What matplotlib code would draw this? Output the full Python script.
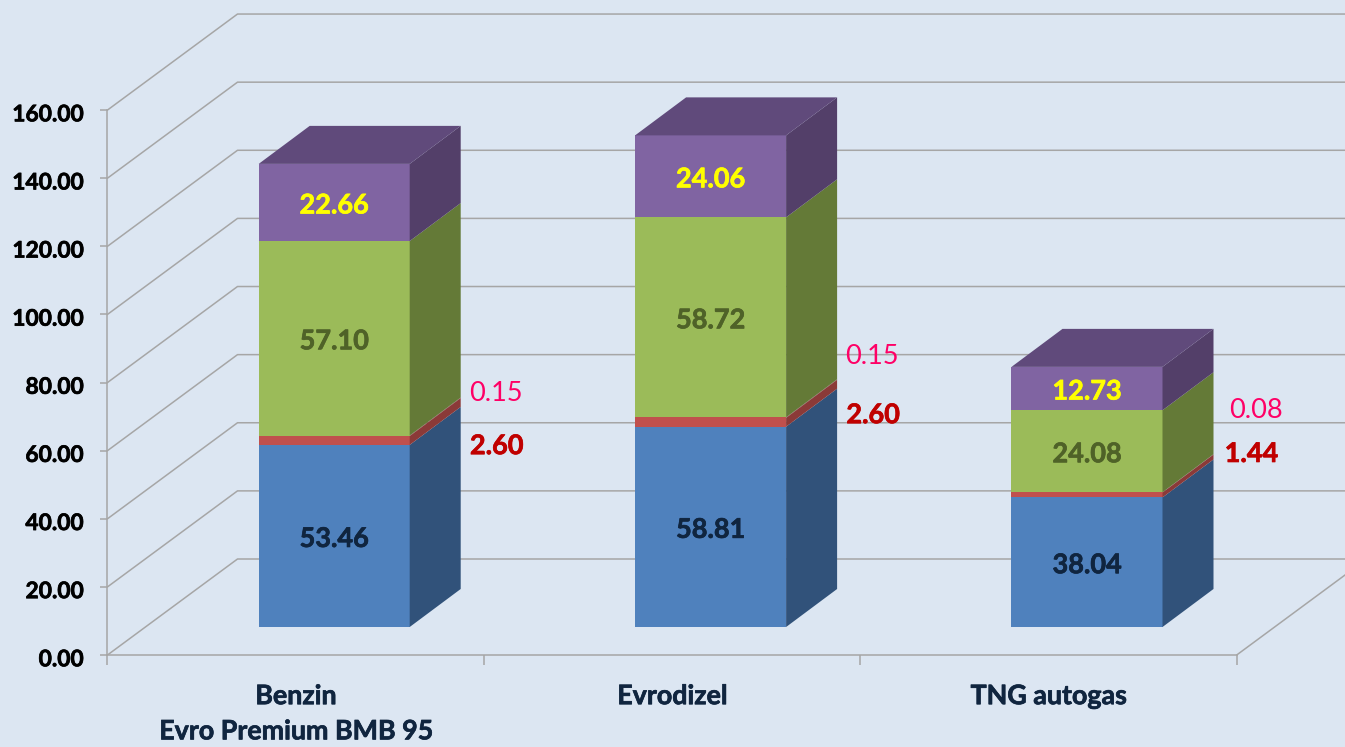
import matplotlib
matplotlib.use("Agg")
import matplotlib.pyplot as plt
import matplotlib.patheffects as pe
from matplotlib.transforms import ScaledTranslation
import numpy as np

categories = ["Benzin\nEvro Premium BMB 95", "Evrodizel", "TNG autogas"]
blue_vals = [53.46, 58.81, 38.04]
red_vals = [2.60, 2.60, 1.44]
pink_vals = [0.15, 0.15, 0.08]
green_vals = [57.10, 58.72, 24.08]
purple_vals = [22.66, 24.06, 12.73]
y_ticks = [0, 20, 40, 60, 80, 100, 120, 140, 160]

# where the two outside labels sit (y in axis units, x as pixels right of the box)
red_label_y = [62.2, 71.3, 59.9]
pink_label_y = [77.8, 88.4, 72.8]
red_label_dx = [36, 36, 38]
pink_label_dx = [35, 35, 42]

bg = "#DCE6F2"
grid_col = "#A6A6A6"
font = "Lato"

# depth of the 3d box in axis units
px_x = 376.4
px_y = 3.406
wall_dx = 130 / px_x
wall_dy = 96 / px_y
bar_w = 151 / px_x
side_dx = 51 / px_x
side_dy = 38 / px_y
base_dx = 38.5 / px_x
base_dy = 28 / px_y
text_drop = 3 / px_y   # lato sits a bit higher than the original font

fig = plt.figure(figsize=(13.45, 7.47), dpi=100, facecolor=bg)
ax = fig.add_axes([107.5 / 1345, 92 / 747, 1 - 107.5 / 1345, 655 / 747])
ax.set_facecolor(bg)
ax.set_xlim(0, (1345 - 107.5) / px_x)
ax.set_ylim(0, 655 / px_y)

# walls
for t in y_ticks:
    ax.plot([0, wall_dx, 4], [t, t + wall_dy, t + wall_dy], color=grid_col, lw=1.1, zorder=1)
ax.plot([3, 3 + wall_dx], [0, wall_dy], color=grid_col, lw=1.1, zorder=1)

series = [
    (blue_vals, "#4F81BD", "#31527A"),
    (red_vals, "#C0504D", "#8B3A38"),
    (pink_vals, "#C0504D", "#8B3A38"),
    (green_vals, "#9BBB59", "#647A37"),
    (purple_vals, "#8064A2", "#533F69"),
]

x = np.arange(3) + 0.5 + base_dx
bottom = np.zeros(3) + base_dy
for vals, front, side in series:
    vals = np.array(vals)
    right = x + bar_w / 2
    ax.bar(x, vals, bar_w, bottom=bottom, color=front, linewidth=0, zorder=3)
    for i in range(3):
        y0 = bottom[i]
        y1 = y0 + vals[i]
        ax.fill([right[i], right[i] + side_dx, right[i] + side_dx, right[i]],
                [y0, y0 + side_dy, y1 + side_dy, y1], color=side, linewidth=0, zorder=3)
    bottom = bottom + vals

# top of the boxes
for i in range(3):
    left = x[i] - bar_w / 2
    right = x[i] + bar_w / 2
    ax.fill([left, left + side_dx, right + side_dx, right],
            [bottom[i], bottom[i] + side_dy, bottom[i] + side_dy, bottom[i]],
            color="#604A7B", linewidth=0, zorder=3)


def bold_label(xp, yp, val, col):
    t = ax.text(xp, yp - text_drop, f"{val:.2f}", color=col, family=font, fontweight="bold",
                fontsize=19.5, ha="center", va="center", zorder=5)
    t.set_path_effects([pe.withStroke(linewidth=0.5, foreground=col)])


# labels inside the bars
b1 = np.array(blue_vals) + base_dy
b2 = b1 + np.array(red_vals) + np.array(pink_vals)
b3 = b2 + np.array(green_vals)
for i in range(3):
    bold_label(x[i], base_dy + blue_vals[i] / 2, blue_vals[i], "#10253F")
    bold_label(x[i], b2[i] + green_vals[i] / 2, green_vals[i], "#4F6228")
    bold_label(x[i], b3[i] + purple_vals[i] / 2, purple_vals[i], "#FFFF00")
    edge = x[i] + bar_w / 2 + side_dx
    bold_label(edge + red_label_dx[i] / px_x, red_label_y[i], red_vals[i], "#C00000")
    ax.text(edge + pink_label_dx[i] / px_x, pink_label_y[i] - text_drop, f"{pink_vals[i]:.2f}", color="#FF0066",
            family=font, fontsize=19.5, ha="center", va="center", zorder=5)

# axes
for s in ["top", "right"]:
    ax.spines[s].set_visible(False)
ax.spines["left"].set_bounds(0, 160)
ax.spines["bottom"].set_bounds(0, 3)
ax.spines["left"].set_color(grid_col)
ax.spines["bottom"].set_color(grid_col)
ax.spines["left"].set_linewidth(1.1)
ax.spines["bottom"].set_linewidth(1.1)

ax.set_yticks(y_ticks)
ax.set_yticklabels([f"{t:.2f}" for t in y_ticks], family=font, fontweight="bold", fontsize=16.4, color="black")
ax.tick_params(axis="y", length=5, width=1.1, color=grid_col, pad=12)
drop = ScaledTranslation(0, -2 / 72, fig.dpi_scale_trans)
for lab in ax.get_yticklabels():
    lab.set_transform(lab.get_transform() + drop)
    lab.set_path_effects([pe.withStroke(linewidth=0.5, foreground="black")])

ax.set_xticks([0, 1, 2, 3])
ax.set_xticklabels([])
ax.tick_params(axis="x", which="major", length=7, width=1.1, color=grid_col)
ax.set_xticks([0.5, 1.5, 2.5], minor=True)
ax.set_xticklabels(categories, minor=True, family=font, fontweight="bold", fontsize=19.3, color="#10253F",
                   linespacing=1.56)
ax.tick_params(axis="x", which="minor", length=0, pad=21)
for lab in ax.get_xticklabels(minor=True):
    lab.set_path_effects([pe.withStroke(linewidth=0.5, foreground="#10253F")])

fig.savefig("out.png", dpi=100, facecolor=bg)
